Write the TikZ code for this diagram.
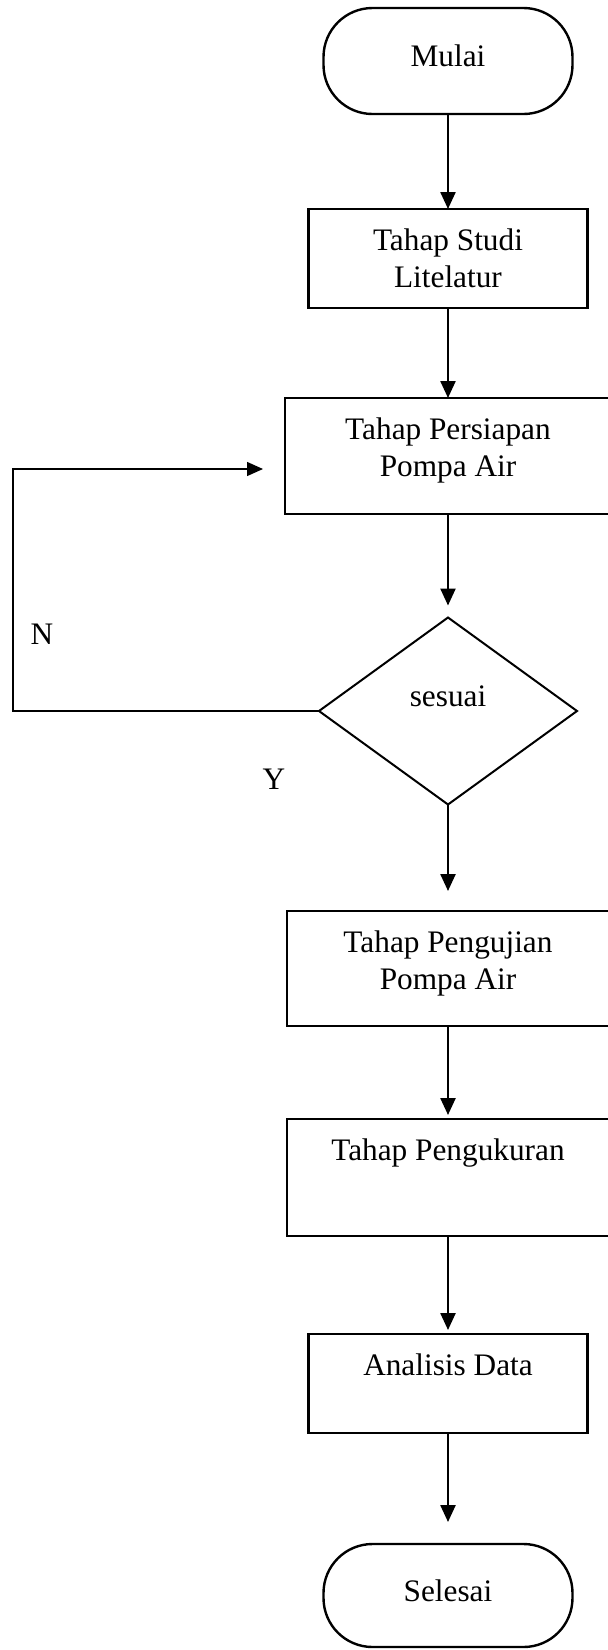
\documentclass[tikz,border=0pt]{standalone}
\usepackage{fontspec}
\setmainfont{Liberation Serif}
\usetikzlibrary{shapes.geometric,arrows.meta}
\newcommand{\boxlines}[1]{\begin{tabular}[t]{@{}c@{}}#1\end{tabular}}
\tikzset{
  flow/.style={font=\fontsize{31.3}{37}\selectfont, inner sep=0pt, outer sep=0pt},
  stepbox/.style={flow, draw, line width=2.4pt, anchor=north, text height=41pt},
  terminal/.style={stepbox, rounded corners=49pt},
  decision/.style={flow, draw, diamond, line width=2pt, minimum width=258pt,
    minimum height=187pt, text height=10pt, text depth=20pt},
  arrow/.style={line width=2.4pt, -{Triangle[width=15pt,length=17pt]}},
}

\begin{document}
\begin{tikzpicture}[x=1pt,y=-1pt]
\useasboundingbox (0,0) rectangle (608,1650);
\clip (0,0) rectangle (608,1650);

\node[terminal, minimum width=249pt, text height=58pt, text depth=48pt] (mulai) at (448,8) {Mulai};
\node[stepbox, minimum width=279pt, text depth=58pt] (studi) at (448,209) {\boxlines{Tahap Studi\\Litelatur}};
\node[stepbox, minimum width=326pt, text depth=75pt] (persiapan) at (448,398) {\boxlines{Tahap Persiapan\\Pompa Air}};
\node[decision] (sesuai) at (448,711) {sesuai};
\node[stepbox, minimum width=322pt, text depth=74pt] (pengujian) at (448,911) {\boxlines{Tahap Pengujian\\Pompa Air}};
\node[stepbox, minimum width=322pt, text depth=76pt] (pengukuran) at (448,1119) {Tahap Pengukuran};
\node[stepbox, minimum width=279pt, text depth=58pt] (analisis) at (448,1334) {Analisis Data};
\node[terminal, minimum width=249pt, text height=57pt, text depth=46pt] (selesai) at (448,1544) {Selesai};

% labels of the decision
\node[flow] (labN) at (42,634) {N};
\node[flow] (labY) at (274,779) {Y};

\draw[arrow] (mulai.south) -- (studi.north);
\draw[arrow] (studi.south) -- (persiapan.north);
\draw[arrow, shorten >=12pt] (persiapan.south) -- (sesuai.north);
\draw[arrow, shorten >=20pt] (sesuai.south) -- (pengujian.north);
\draw[arrow, shorten >=4pt] (pengujian.south) -- (pengukuran.north);
\draw[arrow, shorten >=4pt] (pengukuran.south) -- (analisis.north);
\draw[arrow, shorten >=22pt] (analisis.south) -- (selesai.north);

% back to the preparation step
\coordinate (loop) at (13,469);
\draw[line width=1.4pt, -{Triangle[width=14pt,length=16pt]}, shorten >=22pt]
  (sesuai.west) -| (loop) -- (loop -| persiapan.west);
\end{tikzpicture}
\end{document}
